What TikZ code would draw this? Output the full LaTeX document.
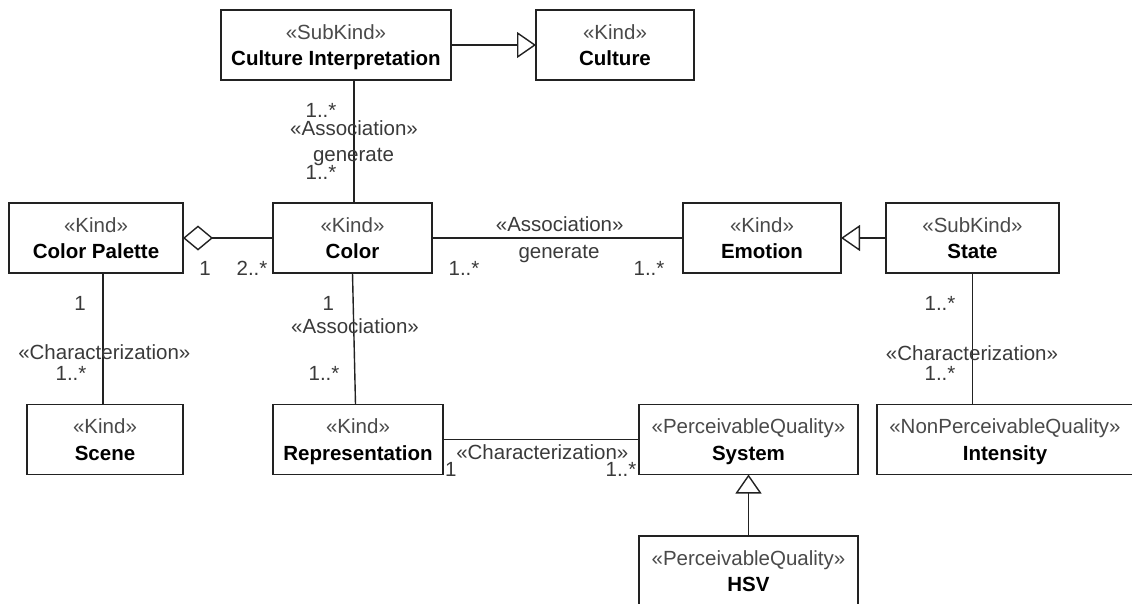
\documentclass[tikz,border=0pt]{standalone}
\usepackage{fontspec}
\setmainfont{Liberation Sans}
\usetikzlibrary{arrows.meta}

\definecolor{edge}{HTML}{222222}
\definecolor{stereo}{HTML}{4A4A4A}
\definecolor{lbl}{HTML}{3A3A3A}

\tikzset{
  txt/.style={font=\fontsize{20.5}{26.5}\selectfont, inner sep=0pt, anchor=base},
  classbox/.style={draw=edge, fill=white, line width=1.4pt, minimum height=70pt,
                   inner sep=0pt, outer sep=0pt},
  stereotxt/.style={txt, text=stereo},
  titletxt/.style={txt, text=black, font=\fontsize{20.5}{26.5}\selectfont\bfseries},
  lab/.style={txt, text=lbl},
  assoc/.style={draw=edge, line width=1.4pt},
  gen/.style={assoc, -{Triangle[fill=white, length=19pt, width=26pt]}},
  aggr/.style={assoc, {Diamond[fill=white, length=30pt, width=25pt]}-},
}

% UML class box: name, centre x, centre y, width, stereotype, title
\newcommand{\umlclass}[6]{%
  \node[classbox, minimum width=#4pt] (#1) at (#2,#3) {};
  \node[stereotxt] (#1-st) at ([yshift=-29pt]#1.north) {«#5»};
  \node[titletxt] (#1-nm) at ([yshift=-55.5pt]#1.north) {#6};
}

\begin{document}
\begin{tikzpicture}[x=1pt, y=-1pt]
  \useasboundingbox (0,0) rectangle (1132,603);

  % classes
  \umlclass{ci}{336}{45}{230}{SubKind}{Culture Interpretation}
  \umlclass{culture}{615}{45}{158}{Kind}{Culture}
  \umlclass{cp}{96}{238}{174}{Kind}{Color Palette}
  \umlclass{color}{352.5}{238}{159}{Kind}{Color}
  \umlclass{emotion}{762}{238}{158}{Kind}{Emotion}
  \umlclass{state}{972.5}{238}{173}{SubKind}{State}
  \umlclass{scene}{105}{439.5}{156}{Kind}{Scene}
  \umlclass{rep}{358}{439.5}{170}{Kind}{Representation}
  \umlclass{system}{748.5}{439.5}{219}{PerceivableQuality}{System}
  \umlclass{intensity}{1005}{439.5}{256}{NonPerceivableQuality}{Intensity}
  \umlclass{hsv}{748.5}{571}{219}{PerceivableQuality}{HSV}

  % generalizations
  \draw[gen] (ci.east) -- (culture.west);
  \draw[gen] (state.west) -- (emotion.east);
  \draw[gen] (hsv.north) -- (system.south);

  % aggregation
  \draw[aggr] (cp.east) -- (color.west);

  % associations and characterizations
  \draw[assoc] ([xshift=1.5pt]color.north) -- ([xshift=1.5pt]color.north |- ci.south);
  \draw[assoc] (color.east) -- (emotion.west);
  \draw[assoc] (color.south) -- ([xshift=-2.5pt]rep.north);
  \draw[assoc] ([xshift=-2pt]scene.north) -- ([xshift=-2pt]scene.north |- cp.south);
  \draw[assoc] (state.south) -- (state.south |- intensity.north);
  \draw[assoc] (rep.east) -- (system.west);

  % Culture Interpretation -- Color
  \node[lab] (l1) at (321,117) {1..*};
  \node[lab] (l2) at (354,135) {«Association»};
  \node[lab] (l3) at (353.5,161.7) {generate};
  \node[lab] (l4) at (321,179) {1..*};

  % Color Palette -- Color
  \node[lab] (l5) at (205,275) {1};
  \node[lab] (l6) at (252,275) {2..*};

  % Color Palette -- Scene
  \node[lab] (l7) at (80,310) {1};
  \node[lab] (l8) at (104.3,359) {«Characterization»};
  \node[lab] (l9) at (71,380) {1..*};

  % Color -- Representation
  \node[lab] (l10) at (328.3,310) {1};
  \node[lab] (l11) at (355,333) {«Association»};
  \node[lab] (l12) at (324,380) {1..*};

  % Color -- Emotion
  \node[lab] (l13) at (559.7,231.7) {«Association»};
  \node[lab] (l14) at (559,258.3) {generate};
  \node[lab] (l15) at (464,275) {1..*};
  \node[lab] (l16) at (649,275) {1..*};

  % State -- Intensity
  \node[lab] (l17) at (940,310) {1..*};
  \node[lab] (l18) at (972,360) {«Characterization»};
  \node[lab] (l19) at (940,380) {1..*};

  % Representation -- System
  \node[lab] (l20) at (542.3,459) {«Characterization»};
  \node[lab] (l21) at (450.7,476) {1};
  \node[lab] (l22) at (621,476.5) {1..*};
\end{tikzpicture}
\end{document}
